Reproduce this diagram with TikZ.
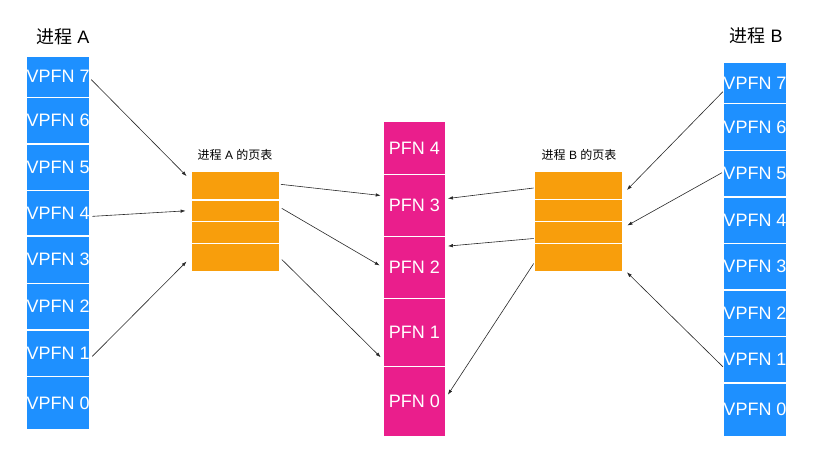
\documentclass[tikz,border=0pt]{standalone}
\usepackage{fontspec}
\setmainfont{Liberation Sans}
\newfontfamily\cjkfont{Noto Sans CJK SC}
\usepackage{tikz}
\usetikzlibrary{arrows.meta}

\begin{document}
\begin{tikzpicture}[x=1pt,y=1pt,yscale=-1,xscale=1,
  vcell/.style={draw=white, line width=1.2pt, fill={rgb, 255:red, 30; green, 144; blue, 255 }, text=white,
    font=\fontsize{18}{18}\selectfont, minimum width=62.5pt, inner sep=0pt},
  pcell/.style={draw=white, line width=1.2pt, fill={rgb, 255:red, 234; green, 30; blue, 140 }, text=white,
    font=\fontsize{18}{18}\selectfont, minimum width=62pt, inner sep=0pt},
  tcell/.style={draw=white, line width=1.2pt, fill={rgb, 255:red, 248; green, 158; blue, 12 },
    minimum width=88pt, inner sep=0pt},
  map/.style={color={rgb, 255:red, 40; green, 40; blue, 40 }, line width=0.6pt, -{Latex[length=5pt,width=3.5pt]}}
]
\useasboundingbox (0,0) rectangle (825,476);

%Shape: Rectangle column of process A
\node [vcell, minimum height=41.3pt] (va7) at (58.2,76.65) {VPFN 7};
\node [vcell, minimum height=46.7pt] (va6) at (58.2,120.65) {VPFN 6};
\node [vcell, minimum height=46.7pt] (va5) at (58.2,167.35) {VPFN 5};
\node [vcell, minimum height=45.3pt] (va4) at (58.2,213.35) {VPFN 4};
\node [vcell, minimum height=47.3pt] (va3) at (58.2,259.65) {VPFN 3};
\node [vcell, minimum height=46.7pt] (va2) at (58.2,306.65) {VPFN 2};
\node [vcell, minimum height=46.7pt] (va1) at (58.2,353.35) {VPFN 1};
\node [vcell, minimum height=53.3pt] (va0) at (58.2,403.35) {VPFN 0};

%Shape: Rectangle column of process B
\node [vcell, minimum height=41pt] (vb7) at (755,83) {VPFN 7};
\node [vcell, minimum height=47pt] (vb6) at (755,127) {VPFN 6};
\node [vcell, minimum height=46.5pt] (vb5) at (755,173.75) {VPFN 5};
\node [vcell, minimum height=46.5pt] (vb4) at (755,220.25) {VPFN 4};
\node [vcell, minimum height=46.5pt] (vb3) at (755,266.75) {VPFN 3};
\node [vcell, minimum height=46.5pt] (vb2) at (755,313.25) {VPFN 2};
\node [vcell, minimum height=46.5pt] (vb1) at (755,359.75) {VPFN 1};
\node [vcell, minimum height=53.5pt] (vb0) at (755,409.75) {VPFN 0};

%Shape: Rectangle physical frames
\node [pcell, minimum height=52.6pt] (pf4) at (414.3,148) {PFN 4};
\node [pcell, minimum height=62.4pt] (pf3) at (414.3,205.5) {PFN 3};
\node [pcell, minimum height=61.6pt] (pf2) at (414.3,267.5) {PFN 2};
\node [pcell, minimum height=68.4pt] (pf1) at (414.3,332.5) {PFN 1};
\node [pcell, minimum height=70pt] (pf0) at (414.3,401.7) {PFN 0};

%Shape: Rectangle page table A
\node [tcell, minimum height=28.3pt] (pta1) at (235.2,185.85) {};
\node [tcell, minimum height=21.7pt] (pta2) at (235.2,210.85) {};
\node [tcell, minimum height=21.6pt] (pta3) at (235.2,232.5) {};
\node [tcell, minimum height=28.4pt] (pta4) at (235.2,257.5) {};

%Shape: Rectangle page table B
\node [tcell, minimum height=27.6pt] (ptb1) at (578.3,185.5) {};
\node [tcell, minimum height=22.4pt] (ptb2) at (578.3,210.5) {};
\node [tcell, minimum height=21.6pt] (ptb3) at (578.3,232.5) {};
\node [tcell, minimum height=28.4pt] (ptb4) at (578.3,257.5) {};

% Text Node
\node [font=\fontsize{18}{18}\selectfont] (titleA) at (63,37) {{\cjkfont 进程} A};
% Text Node
\node [font=\fontsize{18}{18}\selectfont] (titleB) at (756,36) {{\cjkfont 进程} B};
% Text Node
\node [font=\fontsize{12}{12}\selectfont] (labA) at (235,155) {{\cjkfont 进程} A {\cjkfont 的页表}};
% Text Node
\node [font=\fontsize{12}{12}\selectfont] (labB) at (579,155) {{\cjkfont 进程} B {\cjkfont 的页表}};

%Straight Lines process A to its page table
%(yscale=-1 also flips yshift, so a positive yshift goes down)
\draw [map] ([xshift=1pt,yshift=3pt]va7.east) -- ([xshift=-4pt,yshift=5pt]pta1.north west);
\draw [map] ([xshift=2pt,yshift=3pt]va4.east) -- ([xshift=-5pt]pta2.west);
\draw [map] ([xshift=2pt,yshift=3pt]va1.east) -- ([xshift=-4pt,yshift=4pt]pta4.west);
%Straight Lines page table A to frames
\draw [map] ([xshift=1pt,yshift=-1.5pt]pta1.east) -- ([xshift=-2pt,yshift=-10pt]pf3.west);
\draw [map] ([xshift=2pt,yshift=-2.5pt]pta2.east) -- ([xshift=-3pt,yshift=-2pt]pf2.west);
\draw [map] ([xshift=2pt,yshift=2pt]pta4.east) -- ([xshift=-2pt,yshift=-10pt]pf1.south west);
%Straight Lines page table B to frames
\draw [map] ([yshift=2.5pt]ptb1.west) -- ([xshift=2pt,yshift=-7pt]pf3.east);
\draw [map] ([yshift=6pt]ptb3.west) -- ([xshift=2pt,yshift=10pt]pf2.north east);
\draw [map] ([yshift=6pt]ptb4.west) -- ([xshift=2pt,yshift=-7pt]pf0.east);
%Straight Lines process B to its page table
\draw [map] ([yshift=8.7pt]vb7.west) -- ([xshift=4pt,yshift=4.5pt]ptb1.east);
\draw [map] ([xshift=-1pt,yshift=-1pt]vb5.west) -- ([xshift=4.5pt,yshift=-7pt]ptb3.east);
\draw [map] ([yshift=7pt]vb1.west) -- ([xshift=4pt]ptb4.south east);

\end{tikzpicture}
\end{document}
